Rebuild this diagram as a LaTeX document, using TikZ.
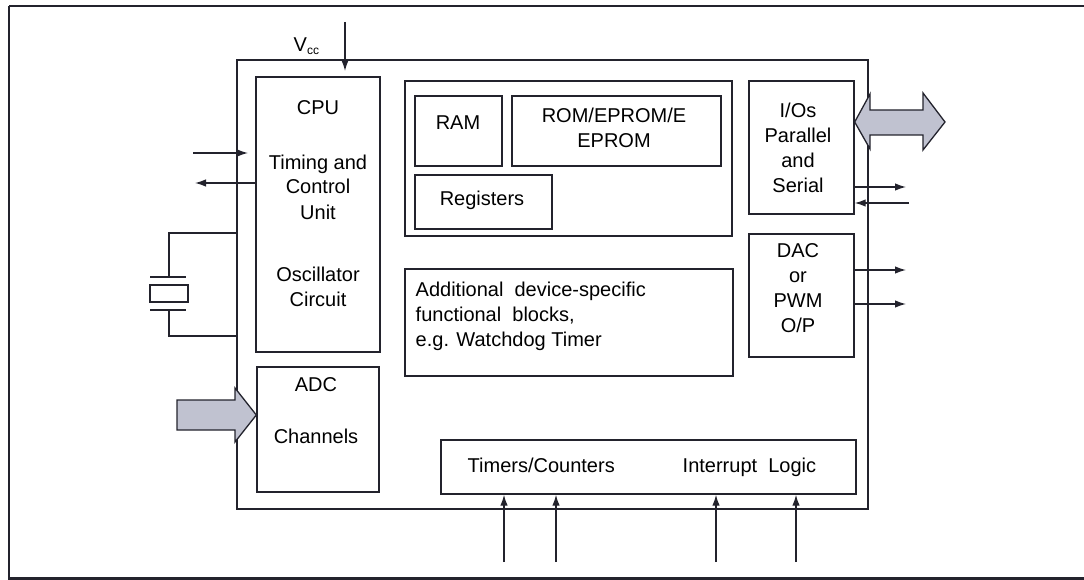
\documentclass[tikz,border=0pt]{standalone}
\usepackage{fontspec}
\setmainfont{Liberation Sans}
\usetikzlibrary{arrows.meta}
\definecolor{padgray}{RGB}{192,194,208}
\definecolor{inkline}{RGB}{35,35,45}

\tikzset{every picture/.style={line width=0.75pt}}

\begin{document}
\begin{tikzpicture}[
            x=1pt,
            y=1pt,
            yscale=-1,
            xscale=1,
            every node/.style={text=black},
            blk/.style={draw=inkline, rectangle, inner sep=0pt, line width=1.4pt},
            lbl/.style={inner sep=0pt, align=center, font=\fontsize{20}{25}\selectfont},
            sig/.style={draw=inkline, line width=1.3pt, -{Latex[length=11pt,width=7.5pt]}},
            pad/.style={draw=inkline, fill=padgray, line width=1.3pt, line join=miter},
            line width=1.4pt
        ]
            \useasboundingbox (0,0) rectangle (1084,580);

            % page frame
            \draw [draw=inkline, line width=1.6pt] (9,6) -- (1084,6) ;
            \draw [draw=inkline, line width=1.8pt] (9,6) -- (9,578) ;
            \draw [draw=inkline, line width=3pt] (8,578) -- (1084,578) ;

            % chip and blocks
            \node [blk, minimum width=631, minimum height=449] (chip) at (552.5,284.5) {};
            \node [blk, minimum width=124, minimum height=275] (cpu) at (318,214.5) {};
            \node [blk, minimum width=122, minimum height=125] (adc) at (318,429.5) {};
            \node [blk, minimum width=327, minimum height=155] (mem) at (568.5,158.5) {};
            \node [blk, minimum width=87, minimum height=70] (ram) at (458.5,131) {};
            \node [blk, minimum width=209, minimum height=70] (rom) at (616.5,131) {};
            \node [blk, minimum width=137, minimum height=54] (reg) at (483.5,202) {};
            \node [blk, minimum width=328, minimum height=107] (addl) at (569,322.5) {};
            \node [blk, minimum width=105, minimum height=133] (io) at (801.5,147.5) {};
            \node [blk, minimum width=105, minimum height=123] (dac) at (801.5,295.5) {};
            \node [blk, minimum width=415, minimum height=54] (tim) at (648.5,467) {};

            % texts (base = last line)
            \node [lbl, anchor=base] (cpulbl) at (318,115) {CPU};
            \node [lbl, anchor=base] (tcu) at (318,219) {Timing and\\Control\\Unit};
            \node [lbl, anchor=base] (osc) at (318,306) {Oscillator\\Circuit};
            \node [lbl, anchor=base] (adclbl) at (316,391) {ADC};
            \node [lbl, anchor=base] (chn) at (316,443) {Channels};
            \node [lbl, anchor=base] (ramlbl) at (458,130) {RAM};
            \node [lbl, anchor=base] (romlbl) at (614,148) {ROM/EPROM/E\\EPROM};
            \node [lbl, anchor=base] (reglbl) at (482,206) {Registers};
            \node [lbl, anchor=base west, align=left] (addlbl) at (415,346) {Additional\ \ device-specific\\functional\ \ blocks,\\e.g. Watchdog Timer};
            \node [lbl, anchor=base] (iolbl) at (798,193) {I/Os\\Parallel\\and\\Serial};
            \node [lbl, anchor=base] (daclbl) at (798,332) {DAC\\or\\PWM\\O/P};
            \node [lbl, anchor=base west] (tclbl) at (467,472) {Timers/Counters};
            \node [lbl, anchor=base west] (intlbl) at (682,472) {Interrupt\ \ Logic};
            \node [lbl, anchor=base west] (vcclbl) at (293,52) {V\raisebox{-3pt}{\fontsize{12}{12}\selectfont cc}};

            % free ends
            \coordinate (vcctop) at (345,22);
            \coordinate (vccend) at (345,71);
            \coordinate (clkin) at (193,153);
            \coordinate (clkinend) at (248,153);
            \coordinate (clkout) at (195,183);
            \coordinate (ioout) at (906,187);
            \coordinate (ioin) at (909,203);
            \coordinate (pwma) at (906,270);
            \coordinate (pwmb) at (906,304);
            \coordinate (tca) at (504,562);
            \coordinate (tcb) at (556,562);
            \coordinate (inta) at (716,562);
            \coordinate (intb) at (796,562);

            % signals
            \draw [sig] (vcctop) -- (vccend) ;
            \draw [sig] (clkin) -- (clkinend) ;
            \draw [sig] (cpu.west |- clkout) -- (clkout) ;
            \draw [sig] (io.east |- ioout) -- (ioout) ;
            \draw [sig] (ioin) -- (io.east |- ioin) ;
            \draw [sig] (dac.east |- pwma) -- (pwma) ;
            \draw [sig] (dac.east |- pwmb) -- (pwmb) ;
            \draw [sig] (tca) -- (tca |- tim.south) ;
            \draw [sig] (tcb) -- (tcb |- tim.south) ;
            \draw [sig] (inta) -- (inta |- tim.south) ;
            \draw [sig] (intb) -- (intb |- tim.south) ;

            % crystal
            \draw [draw=inkline, line width=1.3pt] (chip.west |- 0,233) -- (169,233) -- (169,277) ;
            \draw [draw=inkline, line width=1.3pt] (150,277) -- (186,277) ;
            \draw [draw=inkline, line width=1.3pt] (150,285) rectangle (188,302) ;
            \draw [draw=inkline, line width=1.3pt] (150,310) -- (186,310) ;
            \draw [draw=inkline, line width=1.3pt] (169,310) -- (169,336) -- (chip.west |- 0,336) ;

            % wide ports
            \draw [pad] (177,400) -- (235,400) -- (235,388) -- (adc.west |- 0,415) -- (235,442) -- (235,430) -- (177,430) -- cycle ;
            \draw [pad] (io.east |- 0,122) -- (870,94) -- (870,110) -- (923,110) -- (923,93) -- (945,122) -- (923,150) -- (923,135) -- (870,135) -- (870,149) -- cycle ;
        \end{tikzpicture}
\end{document}
